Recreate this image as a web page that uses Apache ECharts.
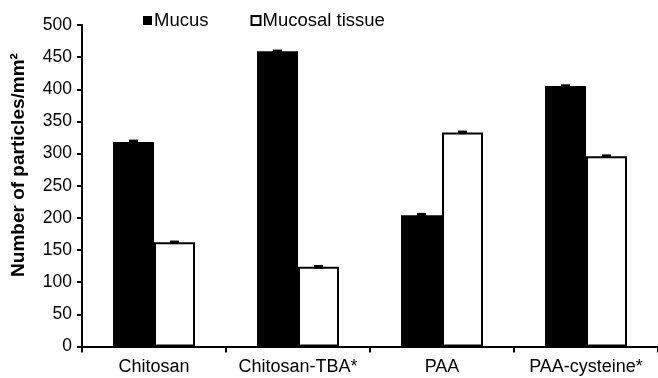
<!DOCTYPE html>
<html>
<head>
<meta charset="utf-8">
<script src="https://cdn.jsdelivr.net/npm/echarts@6/dist/echarts.min.js"></script>
<style>
html,body{margin:0;padding:0;background:#fff;}
#chart{width:658px;height:378px;}
</style>
</head>
<body>
<div id="chart"></div>
<script>
const categories = ['Chitosan', 'Chitosan-TBA*', 'PAA', 'PAA-cysteine*'];
const seriesNames = ['Mucus', 'Mucosal tissue'];
const mucus = [318, 459, 204, 405];
const mucusErr = [3, 2, 3, 2];
const tissue = [162, 124, 333, 296];
const tissueErr = [2, 2, 2, 2];
const yTicks = [0, 50, 100, 150, 200, 250, 300, 350, 400, 450, 500];
const yTitle = 'Number of particles/mm²';

const FONT = '"Liberation Sans", Arial, sans-serif';
const BAR_W = 41;

const chart = echarts.init(document.getElementById('chart'), null, {renderer: 'canvas'});

function errSeries(vals, errs, side) {
  return {
    type: 'custom',
    silent: true,
    z: 5,
    data: vals.map((v, i) => [i, v, errs[i]]),
    renderItem: function (params, api) {
      const i = api.value(0), v = api.value(1), e = api.value(2);
      const c = api.coord([i, v]);
      const hi = api.coord([i, v + e]);
      const lo = api.coord([i, v - e]);
      const cx = c[0] + side * BAR_W / 2;
      return {
        type: 'rect',
        shape: {x: cx - 4.5, y: hi[1] - 0.5, width: 9, height: Math.max(3, lo[1] - hi[1] + 1)},
        style: {fill: '#000'}
      };
    }
  };
}

chart.setOption({
  animation: false,
  backgroundColor: '#fff',
  textStyle: {fontFamily: FONT, color: '#000'},
  grid: {left: 82, top: 25, width: 580, bottom: 31.5, containLabel: false},
  legend: {
    left: 138, top: 6,
    itemWidth: 9, itemHeight: 9, itemGap: 42,
    icon: 'rect',
    data: seriesNames,
    textStyle: {fontFamily: FONT, fontSize: 18.5, color: '#000', padding: [0, 0, 0, -3]}
  },
  xAxis: {
    type: 'category',
    data: categories,
    axisLine: {lineStyle: {color: '#000', width: 2}},
    axisTick: {show: true, length: 6, lineStyle: {color: '#000', width: 2}},
    axisLabel: {fontFamily: FONT, fontSize: 18, color: '#000', margin: 12, interval: 0},
    splitLine: {show: false}
  },
  yAxis: {
    type: 'value',
    min: yTicks[0], max: yTicks[yTicks.length - 1], interval: yTicks[1] - yTicks[0],
    axisLine: {show: true, lineStyle: {color: '#000', width: 2}},
    axisTick: {show: true, length: 5, lineStyle: {color: '#000', width: 2}},
    axisLabel: {fontFamily: FONT, fontSize: 17.5, color: '#000', margin: 10},
    splitLine: {show: false}
  },
  graphic: [{
    type: 'text',
    x: 19, y: 165,
    rotation: Math.PI / 2,
    style: {text: yTitle, font: 'bold 19px ' + FONT, fill: '#000', textAlign: 'center', textVerticalAlign: 'middle'}
  }],
  series: [
    {name: seriesNames[0], type: 'bar', data: mucus, barWidth: BAR_W, barGap: '0%',
     itemStyle: {color: '#000', borderColor: '#000', borderWidth: 0}},
    {name: seriesNames[1], type: 'bar', data: tissue, barWidth: BAR_W, barGap: '0%',
     itemStyle: {color: '#fff', borderColor: '#000', borderWidth: 2}},
    errSeries(mucus, mucusErr, -1),
    errSeries(tissue, tissueErr, 1)
  ]
});
</script>
</body>
</html>
